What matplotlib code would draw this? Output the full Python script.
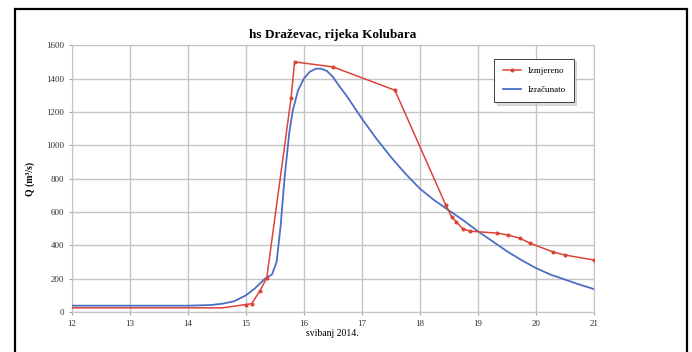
import matplotlib.pyplot as plt
from matplotlib.patches import Rectangle

plt.rcParams["font.family"] = ["Liberation Serif", "DejaVu Serif"]

# izmjereno (measured) discharge, days of May 2014
measured_day = [12.0, 13.0, 14.0, 14.6, 14.9, 15.0, 15.1, 15.24, 15.36,
                15.78, 15.84, 16.5, 17.57, 18.45, 18.55, 18.63, 18.74,
                18.86, 19.33, 19.52, 19.72, 19.9, 20.3, 20.5, 21.0]
measured_q = [25, 25, 25, 25, 40, 45, 50, 126, 205,
              1285, 1500, 1470, 1330, 640, 570, 540, 500,
              485, 473, 462, 443, 413, 360, 342, 312]

# izracunato (computed) discharge
computed_day = [12.0, 13.0, 14.0, 14.4, 14.6, 14.8, 15.0, 15.15, 15.33,
                15.45, 15.53, 15.6, 15.67, 15.75, 15.81, 15.9, 16.0,
                16.1, 16.2, 16.29, 16.4, 16.5, 16.6, 16.75, 17.0, 17.25,
                17.5, 17.75, 18.0, 18.25, 18.5, 18.75, 19.0, 19.25,
                19.5, 19.75, 20.0, 20.25, 20.5, 20.75, 21.0]
computed_q = [38, 38, 38, 42, 50, 65, 100, 140, 200,
              225, 300, 520, 815, 1080, 1210, 1330, 1400,
              1440, 1458, 1460, 1445, 1410, 1360, 1290, 1160, 1040,
              930, 830, 740, 670, 610, 550, 485, 425,
              365, 312, 264, 225, 195, 165, 138]

day_ticks = list(range(12, 22))
q_ticks = list(range(0, 1601, 200))

fig = plt.figure(figsize=(6.92, 3.52), dpi=100)
ax = fig.add_axes([0.104, 0.1136, 0.754, 0.758])

ax.plot(computed_day, computed_q, color="#4a6fc4", lw=1.3,
        label="Izračunato", zorder=3)
ax.plot(measured_day, measured_q, color="#dc4438", lw=1.1,
        marker="o", ms=1.9, markevery=list(range(5, len(measured_day))),
        label="Izmjereno", zorder=4)

ax.set_xlim(12, 21)
ax.set_ylim(0, 1600)
ax.set_xticks(day_ticks)
ax.set_yticks(q_ticks)
ax.tick_params(labelsize=6.5, length=2.5, color="#a0a0a0",
               labelcolor="#303030", pad=3)
ax.grid(color="#c4c4c4", lw=1.0)
for spine in ax.spines.values():
    spine.set_color("#c4c4c4")

ax.set_title("hs Draževac, rijeka Kolubara", fontsize=9.5,
             fontweight="bold", pad=5)
ax.set_xlabel("svibanj 2014.", fontsize=7, labelpad=1)
ax.set_ylabel("Q (m³/s)", fontsize=7, fontweight="bold", labelpad=8)

handles, labels = ax.get_legend_handles_labels()
leg = ax.legend(handles[::-1], labels[::-1], loc="upper left",
                bbox_to_anchor=(0.708, 0.846),
                bbox_transform=fig.transFigure, fontsize=6.5,
                fancybox=False,
                shadow={"ox": 1.5, "oy": -1.5, "color": "#b8b8b8"},
                handlelength=2.0, borderpad=0.9, labelspacing=1.2,
                framealpha=1)
leg.get_frame().set_edgecolor("#404040")
leg.get_frame().set_linewidth(0.7)

fig.patches.append(Rectangle((0.0217, -0.02), 0.971, 0.994,
                             transform=fig.transFigure, fill=False,
                             edgecolor="black", lw=1.6))

fig.savefig("out.png", dpi=100)
